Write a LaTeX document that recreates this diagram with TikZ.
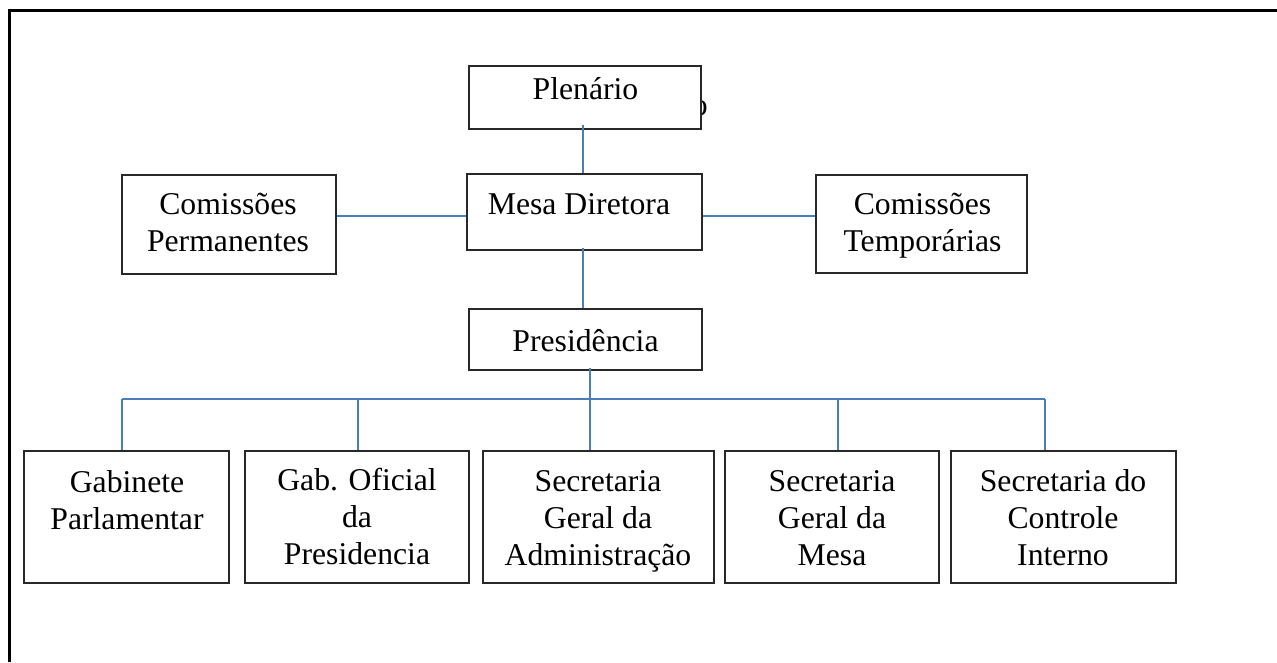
\documentclass[tikz,border=0pt]{standalone}
\usepackage{fontspec}
\setmainfont{Liberation Serif}
\definecolor{conncol}{RGB}{74,126,187}
\definecolor{boxcol}{RGB}{40,40,40}
\begin{document}
\begin{tikzpicture}[x=1pt,y=-1pt,
  box/.style={draw=boxcol,line width=1.3pt,fill=white,inner sep=0pt,rectangle},
  lbl/.style={anchor=north,inner sep=0pt,align=center,font=\fontsize{31.7}{37}\selectfont},
  conn/.style={draw=conncol,line width=1.8pt}]
\useasboundingbox (0,0) rectangle (1277,662);
% outer frame (left and top edges)
\draw[line width=3pt] (9.5,662) -- (9.5,10) -- (1277,10);
% stray glyph partly hidden behind the Plenario box
\node[anchor=base east,inner sep=0pt,font=\fontsize{31.7}{37}\selectfont] (stray) at (708,115) {o};
% boxes
\node[box,minimum width=232pt,minimum height=63pt] (pl) at (585,97.5) {};
\node[box,minimum width=235pt,minimum height=76pt] (mesa) at (584.5,212) {};
\node[box,minimum width=214pt,minimum height=99pt] (cp) at (229,224.5) {};
\node[box,minimum width=211pt,minimum height=98pt] (ct) at (921.5,224) {};
\node[box,minimum width=233pt,minimum height=61pt] (pres) at (585.5,339.5) {};
\node[box,minimum width=205pt,minimum height=132pt] (gp) at (126.5,517) {};
\node[box,minimum width=224pt,minimum height=132pt] (go) at (357,517) {};
\node[box,minimum width=231pt,minimum height=132pt] (sga) at (598.5,517) {};
\node[box,minimum width=214pt,minimum height=132pt] (sgm) at (832,517) {};
\node[box,minimum width=225pt,minimum height=132pt] (sci) at (1063.5,517) {};
% labels
\node[lbl] (tpl) at (585.5,75) {\rule{0pt}{24pt}Plenário};
\node[lbl] (tmesa) at (579,190) {\rule{0pt}{24pt}Mesa Diretora};
\node[lbl] (tcp) at (228,190) {\rule{0pt}{24pt}Comissões\\Permanentes};
\node[lbl] (tct) at (922.5,190) {\rule{0pt}{24pt}Comissões\\Temporárias};
\node[lbl] (tpres) at (585.5,327) {\rule{0pt}{24pt}Presidência};
\node[lbl] (tgp) at (127,468) {\rule{0pt}{24pt}Gabinete\\Parlamentar};
\node[lbl] (tgo) at (357,466) {\rule{0pt}{24pt}Gab. Oficial\\da\\Presidencia};
\node[lbl] (tsga) at (598,467) {\rule{0pt}{24pt}Secretaria\\Geral da\\Administração};
\node[lbl] (tsgm) at (832,467) {\rule{0pt}{24pt}Secretaria\\Geral da\\Mesa};
\node[lbl] (tsci) at (1063,467) {\rule{0pt}{24pt}Secretaria do\\Controle\\Interno};
% connector coordinates
\coordinate (v1) at (583,0);
\coordinate (hm) at (0,216);
\coordinate (b1) at (122,399);
\coordinate (b2) at (358,399);
\coordinate (b3) at (590,399);
\coordinate (b4) at (838,399);
\coordinate (b5) at (1045,399);
% connectors
\draw[conn] ([yshift=5pt]v1 |- pl.south) -- (v1 |- mesa.north);
\draw[conn] ([yshift=3pt]v1 |- mesa.south) -- (v1 |- pres.north);
\draw[conn] (mesa.west |- hm) -- (cp.east |- hm);
\draw[conn] (mesa.east |- hm) -- (ct.west |- hm);
\draw[conn] ([yshift=3pt]b3 |- pres.south) -- (b3 |- sga.north);
\draw[conn] (b1) -- (b5);
\draw[conn] (b1) -- (b1 |- gp.north);
\draw[conn] (b2) -- (b2 |- go.north);
\draw[conn] (b4) -- (b4 |- sgm.north);
\draw[conn] (b5) -- (b5 |- sci.north);
\end{tikzpicture}
\end{document}
